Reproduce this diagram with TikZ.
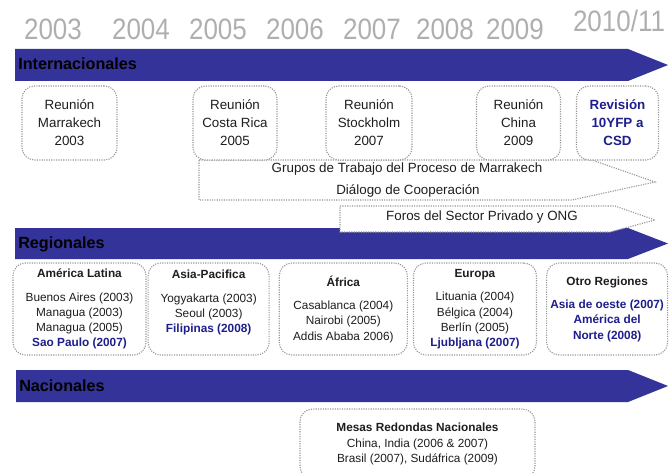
\documentclass[tikz,border=0pt]{standalone}
\usepackage{fontspec}
\setmainfont{Liberation Sans}
\usetikzlibrary{positioning}
\usepackage{xcolor}
\definecolor{bandblue}{RGB}{51,51,153}
\definecolor{navytext}{RGB}{30,30,140}
\definecolor{yeargray}{RGB}{175,175,175}
\definecolor{dotgray}{RGB}{150,150,150}
\definecolor{bodytext}{RGB}{30,30,30}
\newcommand{\hilite}[1]{\textcolor{navytext}{\bfseries #1}}
\newcommand{\yr}[1]{\scalebox{0.88}[1]{#1}}

\tikzset{
  band/.style={fill=bandblue, draw=none},
  bandlabel/.style={anchor=base west, inner sep=0pt, text=black, font=\fontsize{11.5}{13}\selectfont\bfseries},
  year/.style={text=yeargray, inner sep=0pt, font=\fontsize{21}{21}\selectfont},
  dotline/.style={draw=dotgray, line width=0.8pt, dash pattern=on 0.8pt off 0.9pt},
  meetbox/.style={dotline, fill=white, rounded corners=9pt, align=center, inner sep=0pt,
    text=bodytext, font=\fontsize{9.5}{12.8}\selectfont, minimum height=1.85cm},
  regbox/.style={dotline, fill=white, rounded corners=9pt, align=center, inner sep=0pt,
    text=bodytext, font=\fontsize{8.4}{10.8}\selectfont, minimum height=2.3cm},
  flowtext/.style={inner sep=0pt, text=bodytext, font=\fontsize{9.5}{11}\selectfont}
}

\begin{document}
\begin{tikzpicture}[x=0.025cm, y=-0.025cm]
    \useasboundingbox (0,0) rectangle (672,473);

    % years
    \node[year] (y2003) at (53,29) {\yr{2003}};
    \node[year] (y2004) at (141,29) {\yr{2004}};
    \node[year] (y2005) at (218,29) {\yr{2005}};
    \node[year] (y2006) at (295,29) {\yr{2006}};
    \node[year] (y2007) at (372,29) {\yr{2007}};
    \node[year] (y2008) at (445,29) {\yr{2008}};
    \node[year] (y2009) at (515,29) {\yr{2009}};
    \node[year] (y2010) at (619,21) {\yr{2010/11}};

    % internacionales
    \fill[band] (15,49) -- (628,49) -- (668,65) -- (628,81) -- (15,81) -- cycle;
    \node[bandlabel] (intl) at (18,70) {Internacionales};

    \draw[dotline, fill=white] (199,160) -- (592,160) -- (655,182) -- (572,200) -- (199,200) -- cycle;
    \node[flowtext] (grupos) at (407,169) {Grupos de Trabajo del Proceso de Marrakech};
    \node[flowtext] (dialogo) at (408,191) {Diálogo de Cooperación};

    \node[meetbox, minimum width=2.375cm] (marrakech) at (69.5,123) {Reunión\\Marrakech\\2003};
    \node[meetbox, minimum width=2.1cm] (costarica) at (235,123) {Reunión\\Costa Rica\\2005};
    \node[meetbox, minimum width=2.15cm] (stockholm) at (369,123) {Reunión\\Stockholm\\2007};
    \node[meetbox, minimum width=2.1cm] (china) at (518.5,123) {Reunión\\China\\2009};
    \node[meetbox, minimum width=2.05cm, text=navytext, font=\fontsize{9.5}{12.8}\selectfont\bfseries] (revision) at (617.5,123) {Revisión\\10YFP a\\CSD};

    % regionales
    \fill[band] (15,228) -- (628,228) -- (668,243.5) -- (628,259) -- (15,259) -- cycle;
    \node[bandlabel] (regl) at (18,248) {Regionales};

    \draw[dotline, fill=white] (340,206) -- (615,206) -- (655,220) -- (610,232) -- (340,232) -- cycle;
    \node[flowtext] (foros) at (482,217) {Foros del Sector Privado y ONG};

    \node[regbox, minimum width=3.325cm] (amlat) at (79.5,309)
        {\textbf{América Latina}\\[6pt]Buenos Aires (2003)\\Managua (2003)\\Managua (2005)\\\hilite{Sao Paulo (2007)}};
    \node[regbox, minimum width=3.025cm, right=0.025cm of amlat] (asiapac)
        {\textbf{Asia-Pacifica}\\[6pt]Yogyakarta (2003)\\Seoul (2003)\\\hilite{Filipinas (2008)}\\\mbox{}};
    \node[regbox, minimum width=3.2cm, right=0.225cm of asiapac] (africa)
        {\textbf{África}\\[6pt]Casablanca (2004)\\Nairobi (2005)\\Addis Ababa 2006)};
    \node[regbox, minimum width=3.075cm, right=0.125cm of africa] (europa)
        {\textbf{Europa}\\[6pt]Lituania (2004)\\Bélgica (2004)\\Berlín (2005)\\\hilite{Ljubljana (2007)}};
    \node[regbox, minimum width=3.025cm, right=0.225cm of europa] (otros)
        {\textbf{Otro Regiones}\\[6pt]\hilite{Asia de oeste (2007)}\\\hilite{América del}\\\hilite{Norte (2008)}};

    % nacionales
    \fill[band] (16,370) -- (628,370) -- (668,386) -- (628,402) -- (16,402) -- cycle;
    \node[bandlabel] (nacl) at (19,391.5) {Nacionales};

    \node[regbox, minimum width=5.875cm, minimum height=1.75cm] (mesas) at (417.5,444)
        {\textbf{Mesas Redondas Nacionales}\\China, India (2006 \& 2007)\\Brasil (2007), Sudáfrica (2009)};
\end{tikzpicture}
\end{document}
